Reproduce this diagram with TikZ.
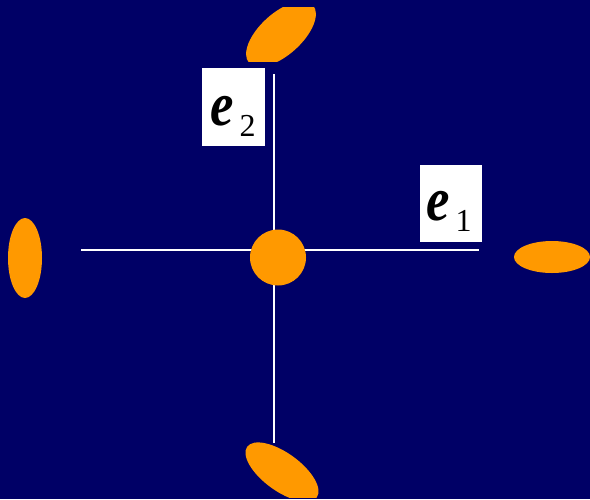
\documentclass[tikz,border=0pt]{standalone}
\usepackage{fontspec}
\setmainfont{Liberation Serif}
\definecolor{navybg}{HTML}{000066}
\definecolor{blob}{HTML}{FF9900}
\begin{document}
\begin{tikzpicture}[x=1pt,y=-1pt,
  axis/.style={white,line width=2pt},
  labelbox/.style={fill=white,draw=none,inner sep=0pt},
  labeltext/.style={anchor=base west,inner sep=0pt,text=black}]
\useasboundingbox (0,0) rectangle (590,499);
\fill[navybg] (0,0) rectangle (590,499);
% axes
\coordinate (xl) at (81,250);
\coordinate (xr) at (479,250);
\coordinate (yt) at (274,74);
\coordinate (yb) at (274,443);
\draw[axis] (xl) -- (xr);
\draw[axis] (yt) -- (yb);
% centre blob
\fill[blob] (278,257.5) circle [radius=28pt];
% top blob
\begin{scope}
\clip (230,7) rectangle (330,61);
\fill[blob, rotate around={42:(281,34)}] (281,34) ellipse [x radius=43pt, y radius=21pt];
\end{scope}
% bottom blob
\begin{scope}
\clip (230,430) rectangle (330,497);
\fill[blob, rotate around={-36:(282,472)}] (282,472) ellipse [x radius=43pt, y radius=19pt];
\end{scope}
% left blob
\begin{scope}
\clip (8,200) rectangle (60,310);
\fill[blob] (25,258) ellipse [x radius=17pt, y radius=40pt];
\end{scope}
% right blob
\fill[blob] (552,257) ellipse [x radius=38pt, y radius=16pt];
% labels
\node[labelbox, minimum width=63pt, minimum height=78pt] (e2box) at (233.5,107) {};
\node[labeltext] (e2) at (210,125) {\scalebox{0.85}[1]{\fontsize{62}{62}\selectfont\bfseries\itshape e}\hspace{6pt}\raisebox{-11pt}{\fontsize{32}{32}\selectfont 2}};
\node[labelbox, minimum width=62pt, minimum height=77pt] (e1box) at (451,203.5) {};
\node[labeltext] (e1) at (426,220) {\scalebox{0.85}[1]{\fontsize{62}{62}\selectfont\bfseries\itshape e}\hspace{6pt}\raisebox{-11pt}{\fontsize{32}{32}\selectfont 1}};
\end{tikzpicture}
\end{document}
